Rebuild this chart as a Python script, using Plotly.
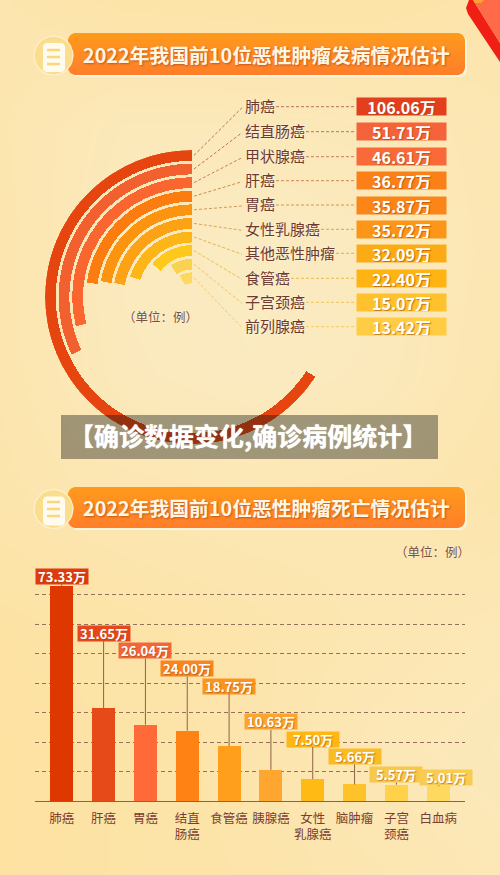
import numpy as np
import plotly.graph_objects as go

W, H = 500, 875
CJK = "Noto Sans CJK SC"

# 发病 (top chart)
inc_names = ["肺癌", "结直肠癌", "甲状腺癌", "肝癌", "胃癌", "女性乳腺癌", "其他恶性肿瘤", "食管癌", "子宫颈癌", "前列腺癌"]
inc_values = [106.06, 51.71, 46.61, 36.77, 35.87, 35.72, 32.09, 22.40, 15.07, 13.42]
inc_colors = ["#E6450F", "#F2602F", "#FB6530", "#FC7C10", "#FD9410", "#FDA214", "#FEB518", "#FFC81C", "#FBD250", "#FDD860"]
inc_box_colors = ["#E33F1D", "#F4633A", "#F96A38", "#FC8018", "#FC8518", "#FD9518", "#FDAB14", "#FFB414", "#FFC22C", "#FFCC44"]
inc_line_colors = ["#B9705F", "#C4705A", "#CC7A5A", "#D08850", "#D69850", "#DDA44E", "#E4B050", "#EBBC50", "#F0C458", "#F3CC60"]

# 死亡 (bottom chart)
mort_names = ["肺癌", "肝癌", "胃癌", "结直<br>肠癌", "食管癌", "胰腺癌", "女性<br>乳腺癌", "脑肿瘤", "子宫<br>颈癌", "白血病"]
mort_values = [73.33, 31.65, 26.04, 24.00, 18.75, 10.63, 7.50, 5.66, 5.57, 5.01]
mort_colors = ["#DE3700", "#E54A18", "#FF6A38", "#FF8215", "#FF9F1C", "#FFA630", "#FFBA14", "#FFC228", "#FFD24A", "#FFD860"]
mort_box_colors = ["#E03A12", "#E5481C", "#F2663A", "#FA8420", "#FB9520", "#FDA42D", "#FFB715", "#FBBB25", "#F8C84A", "#F8CC50"]
mort_lift = [10, 75, 74, 62, 60, 48, 40, 28, 10, 9]
mort_shift = [0, 0, 0, 0, 0, 0, 0, 0, 0, 8]

# soft page tone, rows top to bottom
bg_rows = [
    [0.50, 0.35, 0.30, 0.30, 0.45],
    [0.55, 0.80, 0.80, 0.75, 0.60],
    [0.50, 0.90, 1.00, 0.90, 0.60],
    [0.50, 0.85, 0.95, 0.85, 0.55],
    [0.45, 0.60, 0.65, 0.60, 0.45],
    [0.25, 0.35, 0.45, 0.60, 0.70],
    [0.20, 0.30, 0.45, 0.70, 0.80],
    [0.20, 0.30, 0.40, 0.55, 0.70],
]

row_y = [106.7, 131.7, 156.7, 180.7, 205, 229.3, 253.3, 278.3, 302.3, 326.7]
cx, cy, R = 192, 297, 147
pitch, ring_w = 13.6, 10.8
deg_per_unit = 2.235

fx = lambda x: x / W
fy = lambda y: 1 - y / H


def rounded(x0, y0, x1, y1, r):
    t = np.linspace(0, np.pi / 2, 10)
    xs = np.r_[x1 - r + r * np.sin(t), x1 - r + r * np.cos(t), x0 + r - r * np.sin(t), x0 + r - r * np.cos(t)]
    ys = np.r_[y0 + r - r * np.cos(t), y1 - r + r * np.sin(t), y1 - r + r * np.cos(t), y0 + r - r * np.sin(t)]
    return np.r_[xs, xs[0]], np.r_[ys, ys[0]]


def blob(x0, y0, x1, y1, r, **kw):
    x, y = rounded(x0, y0, x1, y1, r)
    kw.setdefault("mode", "none")
    fig.add_trace(go.Scatter(x=x, y=y, fill="toself", hoverinfo="skip", showlegend=False, **kw))


fig = go.Figure()

# page background + banners live on a pixel canvas (xy)
fig.add_trace(go.Heatmap(
    z=bg_rows, x=np.linspace(0, W, 5), y=np.linspace(0, H, len(bg_rows)), zsmooth="best",
    colorscale=[[0, "#FDE09A"], [0.5, "#FCE5AE"], [1, "#FBEBC2"]], zmin=0, zmax=1,
    showscale=False, hoverinfo="skip", xaxis="x", yaxis="y",
))

ribbon_shapes = [
    ("#F01E14", [(469, 0), (466, 8), (468, 14), (500, 62), (500, 43), (473, 0)]),
    ("#FF6A48", [(473, 0), (500, 43), (500, 0)]),
    ("#F8A030", [(473, 0), (475, 3), (481, 3), (484, 0)]),
]
for col, pts in ribbon_shapes:
    fig.add_trace(go.Scatter(x=[p[0] for p in pts] + [pts[0][0]], y=[p[1] for p in pts] + [pts[0][1]],
                             mode="none", fill="toself", fillcolor=col, hoverinfo="skip", showlegend=False))

for top, bottom in [(33, 75), (487, 528)]:
    blob(70, top + 2, 467, bottom + 2, 8, fillcolor="#FFF4DC")
    blob(68, top, 465, bottom, 8, fillgradient=dict(type="vertical", colorscale=[[0, "#FF7E2A"], [1, "#FF9A1C"]]))
    mid = (top + bottom) / 2 + 2
    blob(34, mid - 20, 73, mid + 19, 19.5, mode="lines", line=dict(color="#FFF1D0", width=1.2), fillcolor="#FBDD8E")
    blob(43, mid - 13, 65, mid + 16, 4, fillcolor="#FFFBEF")

# radial bars
fig.add_trace(go.Barpolar(
    r=[ring_w] * len(inc_values),
    base=[R - ring_w - pitch * i for i in range(len(inc_values))],
    theta=[v * deg_per_unit / 2 for v in inc_values],
    width=[v * deg_per_unit for v in inc_values],
    marker=dict(color=inc_colors, line_width=0),
    hoverinfo="skip", subplot="polar", showlegend=False,
))

# bars
fig.add_trace(go.Bar(
    x=mort_names, y=mort_values, width=0.55, xaxis="x2", yaxis="y2",
    marker=dict(color=mort_colors, line_width=0), showlegend=False,
))

shapes = []
annotations = []

for top in (56, 508):
    for dy in (-6, 1, 8):
        shapes.append(dict(type="line", xref="paper", yref="paper", layer="above",
                           x0=fx(47), x1=fx(60), y0=fy(top + dy), y1=fy(top + dy),
                           line=dict(color="#FBD67A", width=2.5)))

for i, name in enumerate(inc_names):
    ring_y = cy - R + ring_w / 2 + pitch * i
    col = inc_line_colors[i]
    dash = dict(color=col, width=1, dash="3px,2px")
    shapes.append(dict(type="line", xref="paper", yref="paper", layer="above",
                       x0=fx(194), y0=fy(ring_y), x1=fx(242), y1=fy(row_y[i] + 1), line=dash))
    shapes.append(dict(type="line", xref="paper", yref="paper", layer="above",
                       x0=fx(246 + 15 * len(name)), y0=fy(row_y[i]), x1=fx(354), y1=fy(row_y[i]), line=dash))
    annotations.append(dict(xref="paper", yref="paper", x=fx(242.5), y=fy(row_y[i] - 1), xanchor="left", yanchor="middle",
                            text=name, showarrow=False,
                            font=dict(family=CJK, size=15, color="#6E3A30", shadow="0 0 2px #FFF8E8")))
    annotations.append(dict(xref="paper", yref="paper", x=fx(401.5), y=fy(row_y[i]), xanchor="center", yanchor="middle",
                            text=f"{inc_values[i]:.2f}万", showarrow=False, width=89, height=17, borderpad=0, bgcolor=inc_box_colors[i],
                            font=dict(family=CJK, size=16, color="#FFFFFF", weight="bold", shadow="1px 1px 1px rgba(150,70,10,0.6)")))

for i, name in enumerate(mort_names):
    annotations.append(dict(xref="x2", yref="y2", x=name, y=mort_values[i], text=f"{mort_values[i]:.2f}万",
                            showarrow=True, arrowhead=0, arrowwidth=1, arrowcolor="#8E6248",
                            ax=mort_shift[i], ay=-mort_lift[i], standoff=0,
                            width=52, height=15, bgcolor=mort_box_colors[i], borderpad=0,
                            font=dict(family=CJK, size=13, color="#FFFFFF", weight="bold", shadow="1px 1px 1px rgba(150,70,10,0.5)")))

title_font = dict(family=CJK, size=19.8, color="#FFF7E6", weight="bold", shadow="1px 1px 2px rgba(170,70,10,0.7)")
for y, text in [(54, "2022年我国前10位恶性肿瘤发病情况估计"), (507, "2022年我国前10位恶性肿瘤死亡情况估计")]:
    annotations.append(dict(xref="paper", yref="paper", x=fx(266), y=fy(y), xanchor="center", yanchor="middle",
                            text=text, showarrow=False, font=title_font))

unit_font = dict(family=CJK, size=12.5, color="#7A5040", shadow="0 0 2px #FFF8E8")
annotations.append(dict(xref="paper", yref="paper", x=fx(160.7), y=fy(316), xanchor="center", yanchor="middle",
                        text="（单位：例）", showarrow=False, font=unit_font))
annotations.append(dict(xref="paper", yref="paper", x=fx(432.7), y=fy(551), xanchor="center", yanchor="middle",
                        text="（单位：例）", showarrow=False, font=unit_font))

# grey caption strip
shapes.append(dict(type="rect", xref="paper", yref="paper", layer="above",
                   x0=fx(61), x1=fx(438), y0=fy(415), y1=fy(459),
                   fillcolor="rgba(10,15,15,0.38)", line_width=0))
annotations.append(dict(xref="paper", yref="paper", x=fx(248), y=fy(435), xanchor="center", yanchor="middle",
                        text="【确诊数据变化,确诊病例统计】", showarrow=False,
                        font=dict(family=CJK, size=25, color="#FFFFFF", weight="bold", shadow="0 0 1px #FFFFFF")))

fig.update_layout(
    width=W, height=H, margin=dict(l=0, r=0, t=0, b=0), autosize=False,
    paper_bgcolor="#FCE6B0", plot_bgcolor="rgba(0,0,0,0)", bargap=0,
    shapes=shapes, annotations=annotations, showlegend=False,
    xaxis=dict(domain=[0, 1], range=[0, W], visible=False, fixedrange=True),
    yaxis=dict(domain=[0, 1], range=[H, 0], visible=False, fixedrange=True),
    xaxis2=dict(domain=[fx(35), fx(465)], range=[-0.64, 9.64], anchor="y2",
                type="category", showgrid=False, showline=True, linecolor="#8E6248", linewidth=1.2,
                ticks="", ticklabelstandoff=6,
                tickfont=dict(family=CJK, size=12.5, color="#7A3E30")),
    yaxis2=dict(domain=[fy(801), fy(565)], range=[0, 236 / 2.93], anchor="x2", dtick=10.06, tick0=0,
                showticklabels=False, showline=False, zeroline=False, ticks="",
                gridcolor="#96705A", griddash="4px,3px", gridwidth=1),
    polar=dict(
        domain=dict(x=[fx(cx - R), fx(cx + R)], y=[fy(cy + R), fy(cy - R)]),
        bgcolor="rgba(0,0,0,0)",
        angularaxis=dict(rotation=90, direction="counterclockwise", visible=False),
        radialaxis=dict(range=[0, R], visible=False),
    ),
)

fig.write_html("out.html", config=dict(displayModeBar=False), post_script="document.body.style.margin='0';")
